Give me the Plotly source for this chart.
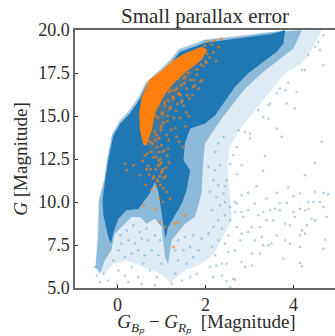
import plotly.graph_objects as go

core_x = [-0.15,-0.21,-0.32,-0.34,-0.28,-0.21,-0.10,0.06,0.28,0.51,0.66,1.0,1.23,1.42,1.99,2.75,3.5,3.81,3.77,3.62,3.28,2.97,2.67,2.44,2.22,1.99,1.65,1.53,1.5,1.65,1.65,1.57,1.46,1.3,1.15,1.09,1.04,0.99,0.93,0.85,0.73,0.62,0.47,0.2,0.02,-0.09]
core_y = [7.58,7.96,9.23,10.1,11.27,12.43,13.8,14.56,15.15,16.0,16.8,17.57,18.16,18.74,19.26,19.5,19.77,20.0,19.22,18.74,18.06,17.48,16.7,15.83,15.05,14.56,14.27,13.4,12.43,11.85,11.85,10.68,9.9,9.23,8.55,7.87,8.74,9.7,10.6,11.17,10.5,10.1,9.6,9.52,9.03,8.26]
halo_x = [-0.5,-0.44,-0.42,-0.3,-0.23,-0.12,0.04,0.26,0.49,0.64,0.98,1.21,1.4,1.97,2.73,3.5,4.19,4.0,3.66,3.28,2.9,2.6,2.37,2.14,1.99,1.95,1.91,1.76,1.53,1.23,1.15,1.08,1.0,0.85,0.66,0.51,0.32,-0.06,-0.14,-0.29,-0.4]
halo_y = [6.2,7.96,10.1,11.3,12.5,13.95,14.7,15.3,16.15,16.95,17.72,18.3,18.9,19.42,19.62,19.88,20.0,18.93,18.25,17.48,16.6,15.63,14.85,14.0,13.4,12.43,10.49,9.13,8.74,7.77,6.4,6.8,8.55,9.03,8.74,9.13,9.13,8.16,7.2,6.6,5.8]
haze_x = [-0.5,-0.46,-0.43,-0.3,-0.24,-0.12,1.97,3.5,4.64,4.41,4.19,3.81,3.43,3.12,2.82,2.55,2.5,2.55,2.6,2.4,2.2,1.9,1.5,1.2,1.0,0.6,0.2,-0.1,-0.3]
haze_y = [6.2,8.0,10.1,11.4,12.6,14.0,19.45,19.9,20.0,18.83,18.06,17.48,16.3,15.34,14.37,13.2,12.0,10.5,9.0,8.0,7.0,6.4,6.0,5.3,5.8,6.2,6.6,6.4,5.8]
orange_x = [0.59,0.51,0.49,0.55,0.72,1.0,1.27,1.53,1.91,2.05,1.91,1.61,1.27,1.04,0.85,0.78,0.66]
orange_y = [13.3,14.17,15.15,16.1,17.09,17.63,18.25,18.64,19.03,18.85,18.25,17.67,16.9,16.1,15.15,14.17,13.3]
orange_band_x = [0.66,0.78,0.85,1.04,1.27,1.61,1.91,2.0,1.61,1.3,1.08,0.93,0.85]
orange_band_y = [13.3,14.17,15.15,16.1,16.9,17.67,18.25,18.7,17.09,15.9,14.76,13.4,12.6]
sparse_blue_x = [3.31,4.26,4.49,2.71,2.56,2.82,3.16,3.88,2.44,2.97,3.62,4.15,4.49,4.68,4.0,4.79,2.82,2.67,3.12,3.39,3.69,3.85,4.34,4.45,4.6,4.68,3.58,3.47,3.31,4.0,4.15,4.26,4.34,2.97,2.82,2.86,3.2,3.39,3.54,3.69,3.81,3.92,4.03,4.49,4.75,4.41,4.19,4.26,4.15,4.3,3.05,3.24,2.97,2.82,2.71,3.28,3.62,3.81,3.5,3.92,4.15,4.72,4.68,3.12,3.05,3.24,3.31,3.43,2.79,2.67,2.52,2.37,2.1,2.82,2.9,3.05,3.77,4.15,4.19,2.37,2.18,2.48,2.63,2.67,2.56,2.25,2.48,
 4.68,4.64,3.62,3.73,3.35,3.01,3.01,3.43,3.31,3.85,4.03,4.07,3.81,3.88,4.26,4.6,4.68,4.56,4.49,4.34,4.19,2.75,2.71,2.63,2.41,2.29,2.22,2.9,3.2,3.43,3.62,3.69,3.47,
 -0.51,-0.47,-0.4,-0.32,-0.21,-0.09,0.02,0.17,0.32,0.47,0.59,0.74,0.89,1.0,0.17,0.32,0.47,0.62,0.78,0.93,0.02,0.09,0.25,0.4,0.55,0.7,0.85,0.97,0.06,0.21,0.36,0.51,0.66,1.31,1.46,1.65,1.8,1.38,1.57,1.72,1.31,1.5,1.65,1.84,1.38,1.53,1.72,1.91,1.23,0.55,-0.02,0.25,0.85,
 2.07,2.22,2.33,2.18,2.29,2.41,2.1,2.25,2.44,2.56,2.33,2.14,2.44,2.29,2.56,2.18,2.37,2.52,2.07,2.29,2.14,2.44,2.22,2.67,2.71,2.48]
sparse_blue_y = [11.81,11.56,12.27,11.61,12.2,12.14,10.92,10.84,10.92,10.53,10.53,10.49,10.59,10.53,10.33,10.45,10.39,10.0,9.91,10.2,9.94,9.94,10.0,10.0,10.0,9.71,9.61,9.52,9.42,9.42,9.61,9.52,9.61,9.52,9.42,9.13,9.23,8.93,8.93,9.52,8.74,8.64,9.13,8.93,9.13,9.03,8.35,8.16,8.06,8.64,8.55,8.55,8.26,8.16,8.55,7.96,8.06,7.77,7.58,7.58,7.38,7.81,7.28,7.77,7.0,7.0,7.48,7.48,7.77,7.19,7.09,6.41,6.22,6.51,6.22,6.31,6.7,6.45,6.26,5.73,5.63,5.4,5.54,5.48,5.05,6.31,6.41,
 17.96,13.5,14.27,13.79,12.66,13.98,13.69,14.85,14.95,15.73,15.44,16.41,16.5,16.93,17.67,18.83,19.7,19.3,19.03,18.54,17.67,14.17,13.2,12.72,13.79,13.4,12.91,14.08,15.34,15.63,16.31,16.6,15.73,
 6.22,5.73,5.34,5.83,5.44,6.6,6.02,5.73,6.22,5.63,6.41,6.02,5.63,6.41,6.8,7.0,7.19,6.9,7.19,6.9,7.19,7.58,7.77,7.58,7.87,7.77,8.06,7.77,8.06,8.35,8.64,8.26,8.45,5.83,5.44,5.63,5.83,6.6,6.41,6.8,7.19,7.19,7.38,7.19,7.77,7.96,8.06,7.87,5.25,5.25,5.25,5.34,5.15,
 12.04,11.85,12.14,11.26,10.97,10.49,10.59,10.29,10.0,9.71,9.81,9.52,9.23,8.93,8.93,8.55,8.45,8.06,8.16,7.77,7.38,7.58,6.9,9.42,9.91,11.26]
sparse_orange_x = [0.85,0.97,1.08,1.27,1.53,1.3,1.38,1.12,1.19,0.36,0.21,0.51,0.17,0.59,0.62,0.7,0.76,0.81,0.87,0.92,0.96,1.0,1.05,0.93,0.98,1.03,0.89,0.72,0.66,0.57,1.1,1.15,0.79,0.95,1.02,0.84,0.91,0.99,1.16,1.22,1.28,1.02,1.08,1.14,1.2,1.26,1.33,1.39,1.45,1.52,1.58,1.66,1.72,1.8,1.88,1.95,2.02,2.1,2.18,2.24,2.3,2.36,2.06,2.14,1.42,1.34,1.98,2.04,2.2,
 0.68,0.74,0.81,0.88,0.94,1.0,1.06,0.72,0.79,0.86,0.92,0.99,1.05,1.11,0.8,0.87,0.94,1.01,1.07,1.13,1.19,0.88,0.95,1.02,1.09,1.15,1.21,1.27,0.97,1.04,1.11,1.18,1.24,1.3,1.36,1.08,1.15,1.22,1.29,1.35,1.41,1.47,1.24,1.31,1.38,1.45,1.51,1.57,1.39,1.46,1.53,1.6,1.67,1.73,1.59,1.66,1.74,1.81,1.89,1.78,1.85,1.93,2.0,
 1.43,1.5,1.56,1.63,1.7,1.76,1.84,1.92,1.32,1.4,1.55,1.62,1.48,0.75,0.83,0.9,1.01,1.09,1.17,0.64,0.77,0.94,1.03,1.13,0.88,1.0,0.96,1.04,0.92,0.98]
sparse_orange_y = [9.6,8.84,8.55,7.38,9.23,8.74,8.84,10.6,10.2,12.14,11.85,11.56,12.24,9.8,12.7,12.1,12.9,11.4,11.9,11.2,12.2,11.7,11.4,12.4,11.0,11.9,12.6,11.6,11.9,12.4,12.0,13.1,13.4,13.7,12.9,14.1,13.2,14.4,13.6,14.2,14.9,15.1,15.6,15.0,15.5,16.1,15.3,16.3,15.8,16.9,16.2,17.1,16.7,17.4,17.0,17.9,18.1,18.4,18.7,18.2,19.0,19.5,19.35,19.15,14.9,13.8,19.1,18.6,19.4,
 12.8,13.5,12.6,13.9,12.9,13.3,13.0,14.3,14.7,13.6,14.9,14.2,14.6,13.9,15.3,15.0,15.7,15.2,15.8,14.7,15.4,16.0,16.4,16.1,16.7,15.9,16.5,16.0,16.9,16.6,17.1,16.4,16.9,16.5,15.7,17.2,17.0,17.3,17.0,16.6,16.3,15.9,17.5,17.4,17.2,16.8,17.2,16.6,17.8,17.6,17.3,17.5,17.9,17.1,18.0,18.3,18.1,17.7,18.0,18.5,18.4,18.6,18.2,
 16.2,15.6,15.2,16.0,16.2,16.8,16.6,17.1,14.3,13.5,14.4,15.0,13.2,11.9,11.5,11.3,11.8,11.5,12.3,11.0,10.7,10.2,10.0,12.7,10.9,12.3,11.5,10.8,12.1,12.5]
x_ticks = [0, 2, 4]
y_ticks = [5, 7.5, 10, 12.5, 15, 17.5, 20]
y_tick_labels = ["5.0", "7.5", "10.0", "12.5", "15.0", "17.5", "20.0"]
BLUE = "#1f77b4"
ORANGE = "#ff7f0e"
INK = "#2b2b2b"
SPINE = "#666666"
SERIF = "Liberation Serif"

fig = go.Figure()
def area(xs, ys, color):
    fig.add_trace(go.Scatter(x=xs, y=ys, fill="toself", mode="lines", line=dict(width=0), fillcolor=color, hoverinfo="skip"))

area(haze_x, haze_y, "rgba(31,119,180,0.15)")
area(halo_x, halo_y, "rgba(31,119,180,0.42)")
area(core_x, core_y, BLUE)
fig.add_trace(go.Scatter(x=sparse_blue_x, y=sparse_blue_y, mode="markers", marker=dict(size=2.6, color=BLUE, opacity=0.33, line=dict(width=0))))
area(orange_band_x, orange_band_y, "rgba(255,127,14,0.16)")
area(orange_x, orange_y, ORANGE)
fig.add_trace(go.Scatter(x=sparse_orange_x, y=sparse_orange_y, mode="markers", marker=dict(size=3, color=ORANGE, opacity=0.65, line=dict(width=0))))

tick_font = dict(family=SERIF, size=18, color=INK)
title_font = dict(family=SERIF, size=19, color=INK)
fig.update_layout(
    width=338, height=336, margin=dict(l=75, r=0, t=30, b=48),
    paper_bgcolor="white", plot_bgcolor="white", showlegend=False,
    title=dict(text="Small parallax error", x=0.6065, xanchor="center", y=0.952, yanchor="middle", automargin=False, font=dict(family=SERIF, size=21, color=INK)),
    xaxis=dict(range=[-0.966, 5.011], tickvals=x_ticks, ticktext=[str(v) for v in x_ticks], ticks="inside", ticklen=3.5, tickwidth=1, tickcolor=INK,
               showline=True, linecolor=SPINE, linewidth=1.5, mirror=True, showgrid=False, zeroline=False, tickfont=tick_font, automargin=False,
               title=dict(text="<i>G</i><sub><i>Bₚ</i></sub> − <i>G</i><sub><i>Rₚ</i></sub>  [Magnitude]", font=title_font, standoff=7)),
    yaxis=dict(range=[5, 20], tickvals=y_ticks, ticktext=y_tick_labels, ticks="inside", ticklen=3.5, tickwidth=1, tickcolor=INK,
               showline=True, linecolor=SPINE, linewidth=1.5, mirror=True, showgrid=False, zeroline=False, tickfont=tick_font, automargin=False,
               title=dict(text="<i>G</i> [Magnitude]", font=title_font, standoff=6)),
)
fig.write_html("out.html", config={"displayModeBar": False}, post_script="document.body.style.margin='0';document.body.style.overflow='hidden';document.documentElement.style.overflow='hidden';")
